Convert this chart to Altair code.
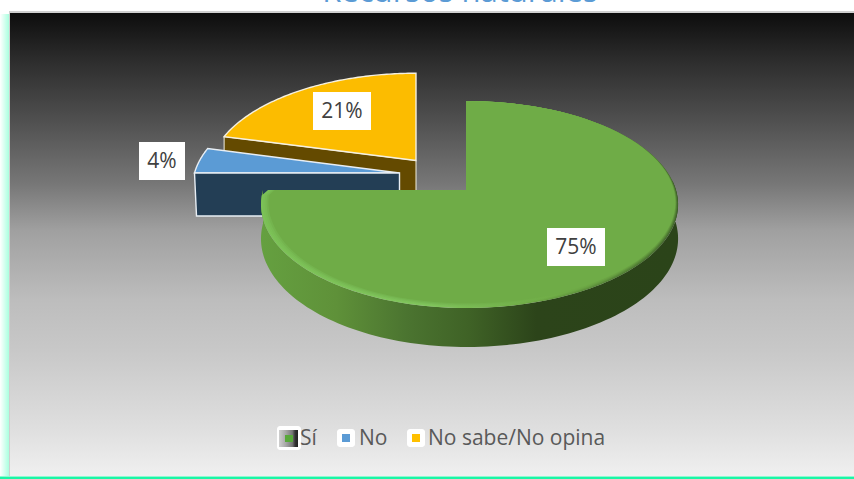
import numpy as np
import pandas as pd
import altair as alt

# Chart content
categories = ["Sí", "No", "No sabe/No opina"]
shares = [75, 4, 21]
share_labels = ["75%", "4%", "21%"]
title_text = "Recursos naturales"

W, H = 854, 479
X_SCALE = alt.Scale(domain=[0, W], nice=False, zero=False)
Y_SCALE = alt.Scale(domain=[H, 0], nice=False, zero=False)

# Pie geometry: a tilted disc seen in perspective
K, RY, RX_R = 0.14, 101.5, 210
RX_L = {"Sí": 203, "No": 205, "No sabe/No opina": 205}
APEX = {"Sí": (466, 190), "No": (399.5, 173), "No sabe/No opina": (416, 160.5)}
DEPTH = {"Sí": 33.5, "No": 43, "No sabe/No opina": 39}
FLATTEN = {"Sí": 1.0, "No": 1.0, "No sabe/No opina": 0.98}

starts = np.cumsum([0] + shares[:-1]) / sum(shares)
ends = np.cumsum(shares) / sum(shares)


def rim(frac, name, depth=0.0, bevel=0.0):
    apex = APEX[name]
    t = 2 * np.pi * np.asarray(frac, dtype=float)
    u, v = np.sin(t), -np.cos(t)
    w = 1 - K * v
    # the bevel is widest along the front-left of the disc and absent at the back
    s = 1 - bevel * np.clip(0.55 + 0.45 * v - 0.3 * u, 0, 1)
    rx = np.where(u < 0, RX_L[name], RX_R) * s
    return apex[0] + rx * u / w, apex[1] + RY * FLATTEN[name] * s * v / w + depth / w


def shape(xs, ys, **mark):
    df = pd.DataFrame({"x": xs, "y": ys, "i": range(len(xs))})
    mark.setdefault("strokeOpacity", 0)
    return alt.Chart(df).mark_line(interpolate="linear-closed", **mark).encode(
        x=alt.X("x:Q", axis=None, scale=X_SCALE),
        y=alt.Y("y:Q", axis=None, scale=Y_SCALE),
        order=alt.Order("i:Q"),
    )


def box(x0, x1, y0, y1, **mark):
    df = pd.DataFrame({"x": [x0], "x2": [x1], "y": [y0], "y2": [y1]})
    return alt.Chart(df).mark_rect(**mark).encode(
        x=alt.X("x:Q", axis=None, scale=X_SCALE), x2="x2:Q",
        y=alt.Y("y:Q", axis=None, scale=Y_SCALE), y2="y2:Q",
    )


def label(x, y, text, color, size, align="center", baseline="middle"):
    df = pd.DataFrame({"x": [x], "y": [y], "t": [text]})
    return alt.Chart(df).mark_text(
        align=align, baseline=baseline, color=color, fontSize=size, font="Open Sans"
    ).encode(
        x=alt.X("x:Q", axis=None, scale=X_SCALE),
        y=alt.Y("y:Q", axis=None, scale=Y_SCALE),
        text="t:N",
    )


def grad(stops, horizontal=False):
    return alt.Gradient(
        gradient="linear",
        stops=[alt.GradientStop(offset=o, color=c) for o, c in stops],
        x1=0, y1=0, x2=1 if horizontal else 0, y2=0 if horizontal else 1,
    )


def wedge(i, bevel=0.0):
    name = categories[i]
    f = np.linspace(starts[i], ends[i], 90)
    xs, ys = rim(f, name, bevel=bevel)
    return np.r_[APEX[name][0], xs], np.r_[APEX[name][1], ys]


layers = []

# Panel background, frame and glow
layers.append(box(0, 9, 14, 476, fill=grad([(0, "#ffffff"), (1, "#aaffdf")], True)))
layers.append(box(9, W, 11, 476, fill="#cfcfcf"))
layers.append(box(10, W, 13, 476, fill=grad([
    (0, "#0d0d0d"), (0.10, "#2c2c2c"), (0.23, "#4f4f4f"), (0.37, "#777777"),
    (0.47, "#a0a0a0"), (0.62, "#bdbdbd"), (0.73, "#c8c8c8"), (0.90, "#dfdfdf"),
    (1, "#f0f0f0"),
])))
layers.append(box(0, W, 476.6, H, fill="#1cf5a5"))

# Title, cut by the top of the page
layers.append(label(460, 2, title_text, "#5b9bd5", 31, baseline="alphabetic"))

# "No sabe/No opina" slice: cut face then top
name = categories[2]
x0, y0 = rim(starts[2], name)
ax, ay = APEX[name]
d = DEPTH[name]
layers.append(shape([x0, ax, ax, x0], [y0, ay, ay + d, y0 + d], fill="#644a00",
                    stroke="#f2efe0", strokeWidth=1, strokeOpacity=1))
xs, ys = wedge(2)
layers.append(shape(xs, ys, fill="#fcbc00", stroke="#f5f0e0", strokeWidth=1.4, strokeOpacity=1))

# "No" slice: top then cut face
xs, ys = wedge(1)
layers.append(shape(xs, ys, fill="#5b9bd5", stroke="#e8eef4", strokeWidth=1.4, strokeOpacity=1))
name = categories[1]
x0, y0 = rim(starts[1], name)
ax, ay = APEX[name]
d = DEPTH[name]
layers.append(shape([x0, ax, ax, x0 + 2], [y0, ay, ay + d, y0 + d], fill="#233e55",
                    stroke="#e8eef4", strokeWidth=1.4, strokeOpacity=1))

# "Sí" slice: curved wall, bevelled top
name = categories[0]
f = np.linspace(0.235, ends[0], 120)
xt, yt = rim(f, name)
xb, yb = rim(f, name, depth=DEPTH[name])
layers.append(shape(np.r_[xt, xb[::-1]], np.r_[yt, yb[::-1]], fill=grad([
    (0, "#65a040"), (0.18, "#5f9139"), (0.35, "#4b7430"), (0.5, "#3f6226"),
    (0.66, "#2c441a"), (1, "#2b4419"),
], True)))

for bevel, fill in [
    (0.0, grad([(0, "#7cc257"), (0.4, "#82c65e"), (0.62, "#70ad47"), (1, "#3f6228")], True)),
    (0.01, grad([(0, "#7abf55"), (0.4, "#7ec25a"), (0.66, "#70ad47"), (1, "#4a7330")], True)),
    (0.02, grad([(0, "#78bb53"), (0.4, "#79bb55"), (0.7, "#70ad47"), (1, "#558536")], True)),
    (0.03, grad([(0, "#74b44e"), (0.4, "#74b44f"), (0.7, "#70ad47"), (1, "#64993f")], True)),
    (0.04, "#6fac47"),
]:
    xs, ys = wedge(0, bevel=bevel)
    # the cut edge stays level; its outer corner is softened
    ys[-1] = APEX[name][1]
    xs[-1] += 5
    layers.append(shape(xs, ys, fill=fill))

# Percentage labels on white plates
plates = [(547, 605, 228, 266), (139, 185, 142, 180), (313, 371, 92, 130)]
for (px0, px1, py0, py1), text in zip(plates, share_labels):
    layers.append(box(px0, px1, py0, py1, fill="#ffffff"))
    layers.append(label((px0 + px1) / 2, (py0 + py1) / 2 + 1, text, "#404040", 21))

# Legend
layers.append(box(277, 301, 426, 450, fill="#ffffff", cornerRadius=3))
layers.append(box(279, 298, 430, 447, fill=grad(
    [(0, "#cfcfcf"), (0.35, "#a8a8a8"), (0.7, "#777777"), (0.85, "#333333"), (1, "#222222")], True)))
layers.append(box(285, 293, 435, 442, fill="#58a83a"))
layers.append(box(337, 355, 429, 447, fill="#ffffff", cornerRadius=3))
layers.append(box(342, 350, 434, 442, fill="#5b9bd5"))
layers.append(box(407, 425, 429, 447, fill="#ffffff", cornerRadius=3))
layers.append(box(412, 420, 434, 442, fill="#ffc000"))
for x, text in zip([300, 359, 428], categories):
    layers.append(label(x, 439, text, "#595959", 21, align="left"))

chart = alt.layer(*layers).properties(
    width=W, height=H, padding=0, background="#ffffff",
    autosize=alt.AutoSizeParams(type="none"),
).configure_view(stroke=None)

chart.save("out.html", embed_options={"renderer": "svg", "actions": False})
